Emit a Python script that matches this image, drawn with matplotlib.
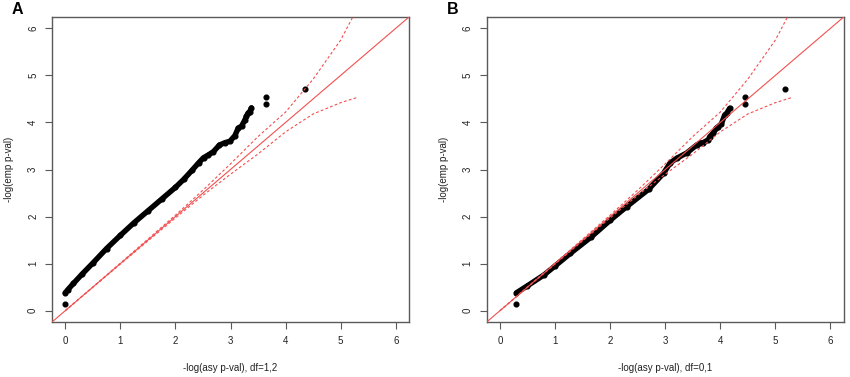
import matplotlib.pyplot as plt

plt.rcParams["font.family"] = ["Liberation Sans", "DejaVu Sans"]

# panel A: empirical vs asymptotic -log p, df=1,2
a_curve_x = [0.00, 0.05, 0.15, 0.30, 0.50, 0.75, 1.00, 1.25, 1.50, 1.75, 2.00, 2.15,
             2.30, 2.42, 2.51, 2.60, 2.69, 2.80, 2.90, 2.99, 3.08, 3.14, 3.20, 3.26,
             3.29, 3.32, 3.35, 3.38]
a_curve_y = [0.38, 0.45, 0.58, 0.77, 1.01, 1.32, 1.60, 1.87, 2.12, 2.37, 2.62, 2.79,
             2.98, 3.14, 3.25, 3.31, 3.38, 3.52, 3.57, 3.60, 3.72, 3.88, 3.92, 4.05,
             4.13, 4.20, 4.23, 4.31]
a_dots_x = [0.00, 3.65, 3.65, 4.36]
a_dots_y = [0.15, 4.40, 4.53, 4.71]

# panel B: df=0,1
b_curve_x = [0.30, 0.50, 0.80, 1.00, 1.28, 1.65, 2.00, 2.30, 2.70, 2.97, 3.09, 3.21,
             3.39, 3.57, 3.63, 3.69, 3.78, 3.81, 3.87, 3.93, 3.95, 4.02, 4.08, 4.12,
             4.17]
b_curve_y = [0.38, 0.53, 0.76, 0.95, 1.22, 1.56, 1.92, 2.21, 2.58, 2.92, 3.14, 3.24,
             3.35, 3.52, 3.56, 3.57, 3.63, 3.70, 3.77, 3.88, 3.90, 3.97, 4.16, 4.20,
             4.30]
b_dots_x = [0.30, 4.45, 4.45, 5.18]
b_dots_y = [0.15, 4.40, 4.53, 4.71]

# confidence band (same in both panels)
band_x = [0.0, 1.0, 2.0, 2.5, 3.0, 3.5, 4.0, 4.5, 5.0, 5.3]
band_hi = [0.0, 1.01, 2.03, 2.56, 3.12, 3.70, 4.22, 4.92, 5.75, 6.42]
band_lo = [0.0, 0.99, 1.97, 2.45, 2.90, 3.33, 3.80, 4.18, 4.42, 4.53]

panels = [
    ("A", "-log(asy p-val), df=1,2", a_curve_x, a_curve_y, a_dots_x, a_dots_y),
    ("B", "-log(asy p-val), df=0,1", b_curve_x, b_curve_y, b_dots_x, b_dots_y),
]
lefts = [52 / 850, 486.7 / 850]
red = "#f25050"
frame = "#5a5a5a"

fig = plt.figure(figsize=(8.5, 3.77), dpi=100)

for (letter, xlab, cx, cy, dx, dy), left in zip(panels, lefts):
    ax = fig.add_axes([left, 55 / 377, 357 / 850, 305 / 377])

    ax.plot(cx, cy, color="black", lw=3.9, solid_capstyle="round", zorder=2)
    ax.plot(cx, cy, "o", color="black", ms=3.4, zorder=2)
    ax.plot(dx, dy, "o", color="black", ms=3.4, zorder=2)

    ax.axline((0, 0), slope=1, color=red, lw=0.8, zorder=3)
    ax.plot(band_x, band_hi, color=red, lw=0.8, dashes=(2.5, 2), zorder=3)
    ax.plot(band_x, band_lo, color=red, lw=0.8, dashes=(2.5, 2), zorder=3)

    ax.set_xlim(-0.24, 6.24)
    ax.set_ylim(-0.24, 6.24)
    ax.set_xticks(range(7))
    ax.set_yticks(range(7))
    for s in ax.spines.values():
        s.set_color(frame)
        s.set_linewidth(1.0)
    ax.tick_params(length=5, width=0.8, color=frame, labelsize=7,
                   labelcolor="#222222", pad=5)
    for t in ax.get_yticklabels():
        t.set_rotation(90)
        t.set_va("center")

    ax.set_xlabel(xlab, fontsize=7, color="#222222", labelpad=12)
    ax.set_ylabel("-log(emp p-val)", fontsize=7, color="#222222", labelpad=10)

    fig.text(left - 40 / 850, 1 - 10 / 377, letter, fontsize=11.5,
             fontweight="bold", ha="left", va="center")

fig.savefig("out.png", dpi=100)
